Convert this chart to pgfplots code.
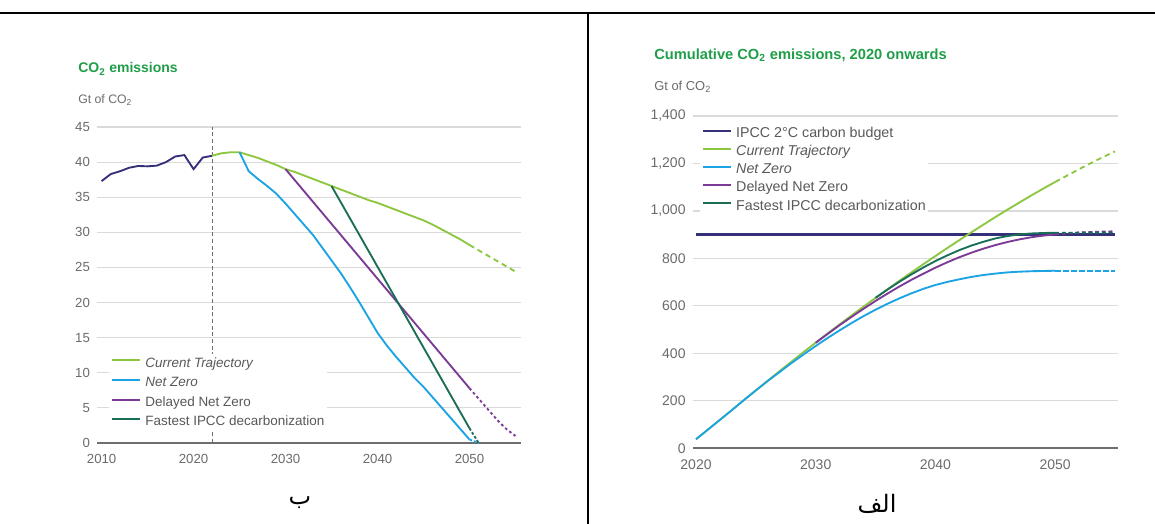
\documentclass[border=0pt]{standalone}
\usepackage{fontspec}
\setmainfont{Liberation Sans}
\newfontfamily\arabicfont[Script=Arabic]{DejaVu Sans}
\TeXXeTstate=1
\usepackage{pgfplots}
\pgfplotsset{compat=1.18}

\definecolor{histnavy}{HTML}{35307A}
\definecolor{ctgreen}{HTML}{8DC63F}
\definecolor{nzblue}{HTML}{1CA3E3}
\definecolor{dnzpurple}{HTML}{7B3A96}
\definecolor{ipccteal}{HTML}{1A6E58}
\definecolor{titlegreen}{HTML}{1F9E49}
\definecolor{tickgray}{HTML}{6B6B6B}
\definecolor{legendgray}{HTML}{595959}
\definecolor{gridgray}{HTML}{DADADA}
\definecolor{axisgray}{HTML}{6E6E6E}

\pgfplotsset{
  co2 base/.style={
    scale only axis,
    enlargelimits=false,
    axis x line=bottom,
    axis y line=left,
    axis line style={-},
    x axis line style={draw=axisgray, line width=1.5pt},
    y axis line style={draw=none},
    tick style={draw=none},
    ymajorgrids,
    grid style={gridgray, line width=0.9pt},
    /pgf/number format/assume math mode=true,
    xticklabel style={/pgf/number format/1000 sep={}, anchor=north, inner sep=0pt, yshift=-6pt, text=tickgray},
    yticklabel style={anchor=east, inner sep=0pt, xshift=-3pt, text=tickgray},
    legend cell align=left,
    legend image code/.code={\draw[#1, solid, line width=1.5pt] (0pt,2.6pt) -- (21pt,2.6pt);},
    every axis plot/.append style={line width=1.4pt},
  },
}

\begin{document}
\begin{tikzpicture}
\useasboundingbox (0,0) rectangle (866.25pt,-393pt);

% frame lines
\draw[line width=1.5pt] (0,-9.75pt) -- (866.25pt,-9.75pt);
\draw[line width=1.5pt] (441pt,-9.75pt) -- (441pt,-393pt);

% ---------- left panel: annual emissions ----------
\node[anchor=west, inner sep=0pt, text=titlegreen, font=\bfseries\fontsize{10.5}{12}\selectfont]
  at (58.5pt,-51.75pt) {CO\textsubscript{2} emissions};
\node[anchor=west, inner sep=0pt, text=tickgray, font=\fontsize{9.2}{11}\selectfont]
  at (58.5pt,-75pt) {Gt of CO\textsubscript{2}};

\begin{axis}[
  co2 base,
  at={(72.75pt,-332.25pt)}, anchor=south west,
  width=318pt, height=237pt,
  xmin=2009.5, xmax=2055.6,
  ymin=0, ymax=45,
  xtick={2010,2020,2030,2040,2050},
  ytick={0,5,...,45},
  ticklabel style={font=\fontsize{9.9}{11}\selectfont},
  legend style={at={(rel axis cs:0.027,0.281)}, anchor=north west,
    draw=none, fill=white, inner sep=2pt,
    font=\fontsize{10.1}{12}\selectfont, text=legendgray,
    row sep=4.7pt, column sep=3pt,
    nodes={inner sep=0pt, text height=0.75em, text depth=0.25em}},
]
\addplot[forget plot, axisgray, line width=0.6pt, dash pattern=on 3pt off 2pt]
  coordinates {(2022,0) (2022,45)};
\addplot[forget plot, histnavy] coordinates {
  (2010,37.3) (2011,38.3) (2012,38.7) (2013,39.2) (2014,39.45) (2015,39.4)
  (2016,39.5) (2017,40.0) (2018,40.8) (2019,41.0) (2020,39.0) (2021,40.65)
  (2022,40.9)
};
\addplot[ctgreen] coordinates {
  (2022,40.9) (2023,41.25) (2024,41.4) (2025,41.4) (2026,41.0) (2027,40.6)
  (2028,40.1) (2029,39.6) (2030,39.0) (2031,38.6) (2032,38.1) (2033,37.6)
  (2034,37.1) (2035,36.6) (2036,36.1) (2037,35.6) (2038,35.1) (2039,34.6)
  (2040,34.2) (2041,33.7) (2042,33.2) (2043,32.7) (2044,32.2) (2045,31.7)
  (2046,31.1) (2047,30.4) (2048,29.7) (2049,29.0) (2050,28.2)
};
\addlegendentry{\textit{Current Trajectory}}
\addplot[forget plot, ctgreen, dash pattern=on 4pt off 3pt] coordinates {
  (2050,28.2) (2052.5,26.3) (2055,24.4)
};
\addplot[nzblue] coordinates {
  (2025,41.4) (2026,38.7) (2027,37.6) (2028,36.6) (2029,35.5) (2030,34.1)
  (2031,32.6) (2032,31.1) (2033,29.6) (2034,27.8) (2035,26.0) (2036,24.2)
  (2037,22.2) (2038,20.1) (2039,17.9) (2040,15.7) (2041,13.9) (2042,12.3)
  (2043,10.8) (2044,9.3) (2045,8.0) (2046,6.5) (2047,5.0) (2048,3.5)
  (2049,2.0) (2050,0.5)
};
\addlegendentry{\textit{Net Zero}}
\addplot[forget plot, nzblue, dash pattern=on 2pt off 1.5pt] coordinates {
  (2050,0.5) (2051,0)
};
\addplot[dnzpurple] coordinates {
  (2030,39.0) (2040,23.4) (2050,7.8)
};
\addlegendentry{Delayed Net Zero}
\addplot[forget plot, dnzpurple, dash pattern=on 2pt off 2pt] coordinates {
  (2050,7.8) (2051,6.3) (2052,4.8) (2053,3.3) (2054,2.0) (2055,1.0)
};
\addplot[ipccteal] coordinates {
  (2035,36.6) (2050,2.1)
};
\addlegendentry{Fastest IPCC decarbonization}
\addplot[forget plot, ipccteal, dash pattern=on 2pt off 1.5pt] coordinates {
  (2050,2.1) (2051,0)
};
\end{axis}

% ---------- right panel: cumulative emissions ----------
\node[anchor=west, inner sep=0pt, text=titlegreen, font=\bfseries\fontsize{11}{13}\selectfont]
  at (490.5pt,-41.25pt) {Cumulative CO\textsubscript{2} emissions, 2020 onwards};
\node[anchor=west, inner sep=0pt, text=tickgray, font=\fontsize{9.7}{11}\selectfont]
  at (490.5pt,-65.25pt) {Gt of CO\textsubscript{2}};

\begin{axis}[
  co2 base,
  at={(519.5pt,-336.2pt)}, anchor=south west,
  width=319pt, height=249.2pt,
  xmin=2019.72, xmax=2055.25,
  ymin=0, ymax=1400,
  xtick={2020,2030,2040,2050},
  ytick={0,200,...,1400},
  yticklabel style={/pgf/number format/1000 sep={,}},
  ticklabel style={font=\fontsize{10.5}{12}\selectfont},
  legend style={at={(rel axis cs:0.0155,0.976)}, anchor=north west,
    draw=none, fill=white, inner sep=2pt,
    font=\fontsize{10.7}{12.5}\selectfont, text=legendgray,
    row sep=2.6pt, column sep=3pt,
    nodes={inner sep=0pt, text height=0.8em, text depth=0.3em}},
]
\addplot[histnavy, line width=1.8pt] coordinates {(2020,900) (2055,900)};
\addlegendentry{IPCC 2°C carbon budget}
\addplot[ctgreen] coordinates {
  (2020,38) (2021,79) (2022,120) (2023,161) (2024,203) (2025,244)
  (2026,285) (2027,326) (2028,366) (2029,406) (2030,445) (2031,484)
  (2032,522) (2033,560) (2034,597) (2035,634) (2036,670) (2037,706)
  (2038,741) (2039,776) (2040,810) (2041,844) (2042,877) (2043,910)
  (2044,942) (2045,974) (2046,1005) (2047,1035) (2048,1065) (2049,1094)
  (2050,1122)
};
\addlegendentry{\textit{Current Trajectory}}
\addplot[forget plot, ctgreen, dash pattern=on 4pt off 3pt] coordinates {
  (2050,1122) (2051,1149) (2052,1176) (2053,1202) (2054,1227) (2055,1251)
};
\addplot[nzblue] coordinates {
  (2020,38) (2021,79) (2022,120) (2023,161) (2024,203) (2025,244)
  (2026,284) (2027,322) (2028,360) (2029,396) (2030,431) (2031,465)
  (2032,497) (2033,528) (2034,557) (2035,584) (2036,609) (2037,632)
  (2038,653) (2039,672) (2040,688) (2041,701) (2042,712) (2043,722)
  (2044,730) (2045,736) (2046,741) (2047,744) (2048,746) (2049,747)
  (2050,748)
};
\addlegendentry{\textit{Net Zero}}
\addplot[forget plot, nzblue, dash pattern=on 4pt off 2pt] coordinates {
  (2050,748) (2055,748)
};
\addplot[dnzpurple] coordinates {
  (2030,445) (2031,482) (2032,519) (2033,554) (2034,588) (2035,621)
  (2036,652) (2037,682) (2038,710) (2039,736) (2040,761) (2041,784)
  (2042,805) (2043,824) (2044,841) (2045,856) (2046,869) (2047,880)
  (2048,889) (2049,896) (2050,901)
};
\addlegendentry{Delayed Net Zero}
\addplot[forget plot, dnzpurple, dash pattern=on 3pt off 2pt] coordinates {
  (2050,901) (2051,905) (2052,909) (2053,911) (2054,913) (2055,914)
};
\addplot[ipccteal] coordinates {
  (2035,634) (2036,669) (2037,702) (2038,733) (2039,762) (2040,789)
  (2041,813) (2042,835) (2043,854) (2044,870) (2045,884) (2046,894)
  (2047,901) (2048,905) (2049,907) (2050,908)
};
\addlegendentry{Fastest IPCC decarbonization}
\addplot[forget plot, ipccteal, dash pattern=on 3pt off 2pt] coordinates {
  (2050,908) (2055,909)
};
\end{axis}

% panel captions
\node[inner sep=0pt, font=\arabicfont\fontsize{18}{21}\selectfont] at (225pt,-377pt) {\beginR ب\endR};
\node[inner sep=0pt, font=\arabicfont\fontsize{18}{21}\selectfont] at (657.75pt,-378pt) {\beginR الف\endR};
\end{tikzpicture}
\end{document}
